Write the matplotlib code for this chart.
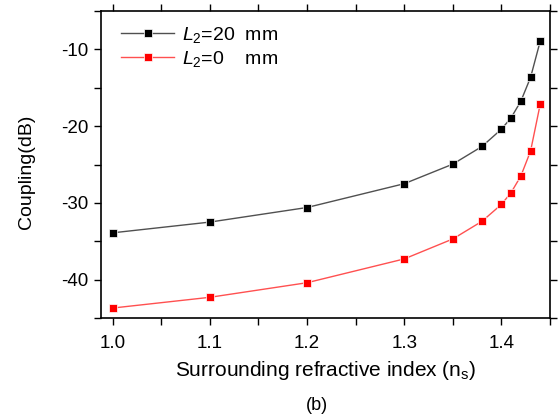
import numpy as np
import matplotlib
matplotlib.use("Agg")
import matplotlib.pyplot as plt
from matplotlib.ticker import MultipleLocator

plt.rcParams['font.family'] = ['Liberation Sans', 'DejaVu Sans']
plt.rcParams['mathtext.fontset'] = 'custom'
plt.rcParams['mathtext.rm'] = 'Liberation Sans'
plt.rcParams['mathtext.it'] = 'Liberation Sans:italic'
plt.rcParams['axes.unicode_minus'] = False

n_s = [1.0, 1.1, 1.2, 1.3, 1.35, 1.38, 1.40, 1.41, 1.42, 1.43, 1.44]
coupling_20mm = [-33.9, -32.5, -30.6, -27.5, -24.95, -22.65, -20.4, -18.9, -16.75, -13.65, -8.9]
coupling_0mm = [-43.7, -42.3, -40.4, -37.3, -34.7, -32.4, -30.2, -28.65, -26.5, -23.25, -17.1]

fig = plt.figure(figsize=(5.59, 4.19), dpi=100)
ax = fig.add_axes([0.1807, 0.241, 0.8032, 0.7327])

ax.plot(n_s, coupling_20mm, color='#505050', lw=1, marker='s', ms=5.5,
        mfc='black', mec='white', mew=0.5, label=r'$L_2$=20  mm')
ax.plot(n_s, coupling_0mm, color='#ff5050', lw=1, marker='s', ms=5.5,
        mfc='red', mec='white', mew=0.5, label=r'$L_2$=0    mm')

ax.set_xlim(0.988, 1.45)
ax.set_ylim(-45, -5)
ax.xaxis.set_minor_locator(MultipleLocator(0.05))
ax.yaxis.set_minor_locator(MultipleLocator(5))
ax.set_xticks([1.0, 1.1, 1.2, 1.3, 1.4])
ax.set_yticks([-10, -20, -30, -40])
ax.tick_params(which='both', direction='out', top=True, right=True,
               width=1, length=5, labelsize=13.5, pad=4)
ax.tick_params(axis='x', pad=7)
for s in ax.spines.values():
    s.set_linewidth(1.2)

ax.set_xlabel(r'Surrounding refractive index (n$_\mathrm{s}$)', fontsize=15, labelpad=5)
ax.set_ylabel('Coupling(dB)', fontsize=14)
ax.yaxis.set_label_coords(-0.148, 0.475)
fig.text(0.567, 0.022, '(b)', fontsize=13, ha='center')

ax.legend(loc='upper left', bbox_to_anchor=(0.015, 1.0), frameon=False,
          fontsize=14, handlelength=2.7, borderaxespad=0.3,
          handletextpad=0.4, labelspacing=0.2)

fig.savefig('out.png', dpi=100)
